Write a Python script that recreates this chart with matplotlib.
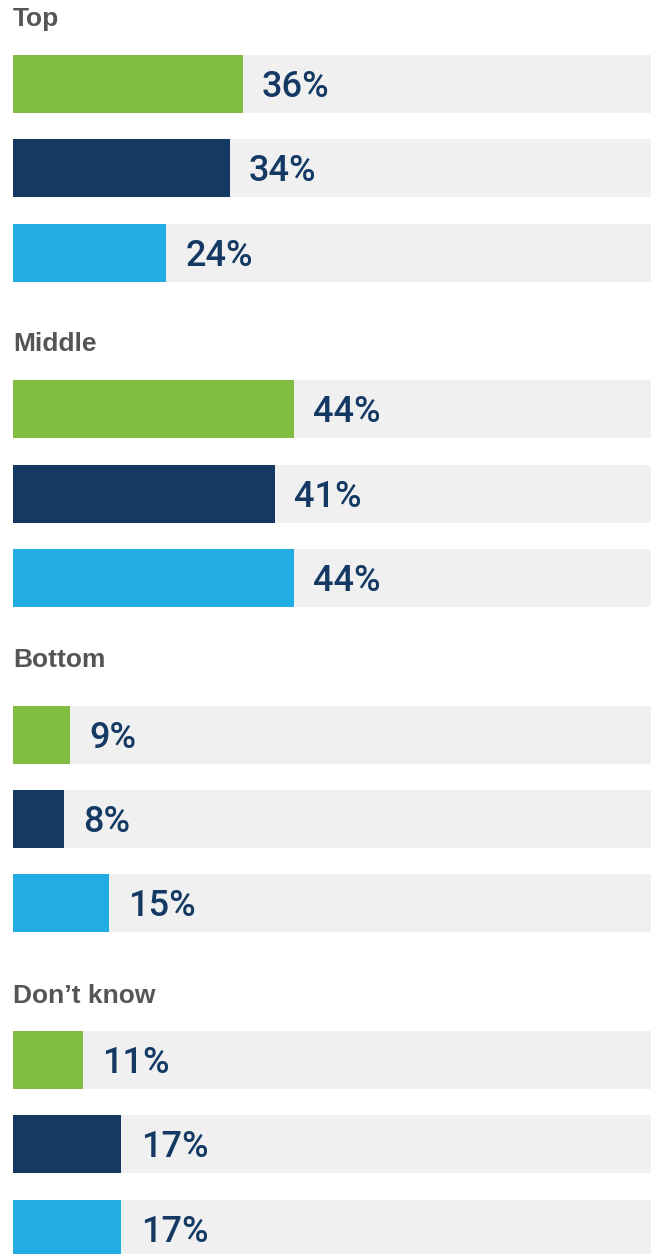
import matplotlib
matplotlib.use('Agg')
import matplotlib.pyplot as plt

# answer groups and the three series (no legend in the original)
groups = ['Top', 'Middle', 'Bottom', 'Don\u2019t know']
series_a = [36, 44, 9, 11]
series_b = [34, 41, 8, 17]
series_c = [24, 44, 15, 17]

colours = ['#80BD41', '#143A64', '#21ADE3']
track = '#F0F0F0'
label_col = '#143A64'
title_col = '#555555'

W, H = 655, 1254
fig = plt.figure(figsize=(W / 100, H / 100), dpi=100)
ax = fig.add_axes([13 / W, 0, 638 / W, 1])
ax.set_xlim(0, 100)
ax.set_ylim(H, 0)
ax.axis('off')

bar_h = 58
row_step = 84.3
group_step = 325.3
first_top = 55
title_gap = [36, 36, 46, 35]

for g, name in enumerate(groups):
    top = first_top + g * group_step
    ax.text(0, top - title_gap[g], name, ha='left', va='center',
            fontsize=19, fontweight='bold', color=title_col,
            family=['Liberation Sans', 'DejaVu Sans'])
    vals = [series_a[g], series_b[g], series_c[g]]
    for r, v in enumerate(vals):
        yc = top + r * row_step + bar_h / 2
        ax.barh(yc, 100, height=bar_h, color=track, zorder=1)
        ax.barh(yc, v, height=bar_h, color=colours[r], zorder=2)
        ax.text(v + 3.0, yc + 3.5, f'{v}%', ha='left', va='center',
                fontsize=26, fontweight='medium', color=label_col,
                family=['Roboto', 'DejaVu Sans'], zorder=3)

fig.savefig('out.png', dpi=100)
